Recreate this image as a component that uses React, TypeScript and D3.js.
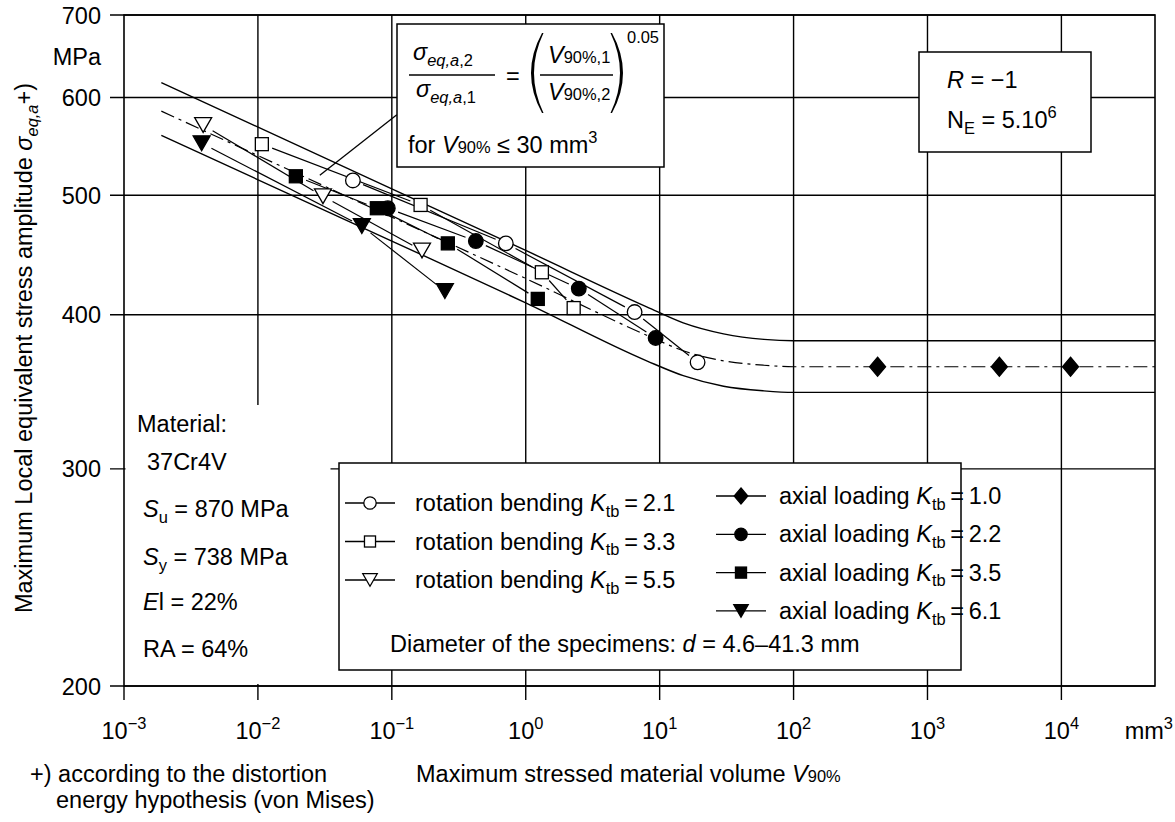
import * as d3 from "d3";
import React, { useEffect, useRef } from "react";

type Pt = [number, number]; // [V90% in mm^3, sigma in MPa]

// rotation bending
const rotBend21: Pt[] = [[0.0512, 514], [0.71, 457], [6.5, 402], [19.2, 366]];
const rotBend33: Pt[] = [[0.0107, 550], [0.164, 491], [1.32, 433], [2.28, 405]];
const rotBend55: Pt[] = [[0.0039, 570], [0.0306, 499], [0.168, 451]];
// axial loading
const axial10: Pt[] = [[424, 363], [3440, 363], [11700, 363]];
const axial22: Pt[] = [[0.0933, 488], [0.424, 459], [2.49, 420], [9.33, 383]];
const axial35: Pt[] = [[0.0192, 518], [0.0773, 488], [0.262, 457], [1.23, 412]];
const axial61: Pt[] = [[0.0038, 551], [0.0597, 472], [0.249, 418]];

// scatter band (upper / mean / lower)
const bandUpper: Pt[] = [[0.0019, 617], [0.1, 506], [1, 451], [8, 406], [15, 394], [30, 386], [60, 382], [100, 381], [50000, 381]];
const bandMean: Pt[] = [[0.0019, 585], [0.1, 480], [1, 428], [8, 385], [15, 374], [30, 367], [60, 364], [100, 363], [50000, 363]];
const bandLower: Pt[] = [[0.0019, 559], [0.1, 459], [1, 409], [8, 367], [15, 357], [30, 350], [60, 347], [100, 346], [50000, 346]];

// pointer from the formula box to the mean line
const leader: Pt[] = [[0.029, 519], [0.109, 581]];

const xTicks = [1e-3, 1e-2, 1e-1, 1, 10, 100, 1000, 1e4];
const xTickExp = ["\u22123", "\u22122", "\u22121", "0", "1", "2", "3", "4"];
const yTicks = [200, 300, 400, 500, 600, 700];

const legendLeftKinds = ["circleOpen", "squareOpen", "triOpen"];
const legendLeftK = ["2.1", "3.3", "5.5"];
const legendRightKinds = ["diamond", "circle", "square", "tri"];
const legendRightK = ["1.0", "2.2", "3.5", "6.1"];

const FONT = "'Liberation Sans', Arial, Helvetica, sans-serif";
const FS = 23.5;

type Part = { t: string; it?: boolean; sub?: boolean; sup?: boolean; sm?: boolean };

function rich(parent: any, x: number, y: number, parts: Part[], size = FS, anchor = "start") {
  const text = parent.append("text")
    .attr("x", x)
    .attr("y", y)
    .attr("font-size", size)
    .attr("text-anchor", anchor)
    .style("white-space", "pre");
  let shift = 0;
  parts.forEach((p) => {
    const target = p.sub ? size * 0.25 : p.sup ? -size * 0.42 : 0;
    const small = p.sub || p.sup || p.sm;
    text.append("tspan")
      .attr("dy", target - shift)
      .attr("font-size", small ? size * 0.7 : size)
      .attr("font-style", p.it ? "italic" : "normal")
      .text(p.t);
    shift = target;
  });
  return text;
}

function drawMarker(g: any, kind: string, cx: number, cy: number, k = 1) {
  const filled = !kind.endsWith("Open");
  const base = kind.replace("Open", "");
  let el;
  if (base === "circle") {
    el = g.append("circle").attr("cx", cx).attr("cy", cy).attr("r", 7.3 * k);
  } else if (base === "square") {
    const h = 6.5 * k;
    el = g.append("rect").attr("x", cx - h).attr("y", cy - h).attr("width", 2 * h).attr("height", 2 * h);
  } else if (base === "tri") {
    const w = 8.5 * k, h = 7.4 * k;
    el = g.append("path").attr("d", `M${cx - w},${cy - h}L${cx + w},${cy - h}L${cx},${cy + h}Z`);
  } else {
    const w = 8 * k, h = 9.5 * k;
    el = g.append("path").attr("d", `M${cx},${cy - h}L${cx + w},${cy}L${cx},${cy + h}L${cx - w},${cy}Z`);
  }
  el.attr("fill", filled ? "#000" : "#fff").attr("stroke", "#000").attr("stroke-width", 1.3);
}

const App: React.FC = () => {
  const ref = useRef<SVGSVGElement>(null);

  useEffect(() => {
    document.body.style.margin = "0";
    const width = 1175;
    const height = 822;
    const plot = { left: 124, right: 1155, top: 15, bottom: 686 };

    d3.select(ref.current).selectAll("*").remove();
    const svg = d3.select(ref.current)
      .attr("width", width)
      .attr("height", height)
      .style("font-family", FONT);

    const x = d3.scaleLog().domain([1e-3, 5e4]).range([plot.left, plot.right]);
    const y = d3.scaleLog().domain([200, 700]).range([plot.bottom, plot.top]);

    // grid
    const grid = svg.append("g").attr("stroke", "#000").attr("stroke-width", 1.4);
    xTicks.slice(1).forEach((t) => {
      grid.append("line").attr("x1", x(t)).attr("x2", x(t)).attr("y1", plot.top).attr("y2", plot.bottom + 14);
    });
    yTicks.forEach((t) => {
      grid.append("line").attr("x1", plot.left - 14).attr("x2", plot.right).attr("y1", y(t)).attr("y2", y(t));
    });
    // frame
    svg.append("rect")
      .attr("x", plot.left).attr("y", plot.top)
      .attr("width", plot.right - plot.left).attr("height", plot.bottom - plot.top)
      .attr("fill", "none").attr("stroke", "#000").attr("stroke-width", 1.6);
    svg.append("line").attr("x1", plot.left).attr("x2", plot.left)
      .attr("y1", plot.bottom).attr("y2", plot.bottom + 14).attr("stroke", "#000").attr("stroke-width", 1.4);

    // white area behind material data
    svg.append("rect").attr("x", plot.left + 1.5).attr("y", 405).attr("width", 205).attr("height", plot.bottom - 407)
      .attr("fill", "#fff");

    // tick labels
    yTicks.forEach((t) => {
      svg.append("text").attr("x", 101).attr("y", y(t) + 8.5).attr("text-anchor", "end")
        .attr("font-size", FS).text(String(t));
    });
    rich(svg, 101, 65, [{ t: "MPa" }], FS, "end");
    xTicks.forEach((t, i) => {
      rich(svg, x(t), 739, [{ t: "10" }, { t: xTickExp[i], sup: true }], FS, "middle");
    });
    rich(svg, 1173, 739, [{ t: "mm" }, { t: "3", sup: true }], FS, "end");

    // axis titles + footnote
    rich(svg, 0, 0, [
      { t: "Maximum Local equivalent stress amplitude " },
      { t: "\u03c3", it: true },
      { t: "eq,a", it: true, sub: true },
      { t: "+)" },
    ], FS, "middle").attr("transform", "translate(32,348) rotate(-90)");
    rich(svg, 416, 782, [{ t: "Maximum stressed material volume " }, { t: "V", it: true }, { t: "90%", sm: true }]);
    rich(svg, 30, 782, [{ t: "+) according to the distortion" }]);
    rich(svg, 56, 808, [{ t: "energy hypothesis (von Mises)" }]);

    // scatter band
    const lineGen = d3.line<Pt>().x((d) => x(d[0])).y((d) => y(d[1])).curve(d3.curveMonotoneX);
    const bands = svg.append("g").attr("fill", "none").attr("stroke", "#000").attr("stroke-width", 1.4);
    bands.append("path").attr("d", lineGen(bandUpper));
    bands.append("path").attr("d", lineGen(bandLower));
    bands.append("path").attr("d", lineGen(bandMean)).attr("stroke-width", 1.2).attr("stroke-dasharray", "14,5,3,5");

    // series connectors + markers
    const series = [
      { data: rotBend21, kind: "circleOpen" },
      { data: rotBend33, kind: "squareOpen" },
      { data: rotBend55, kind: "triOpen" },
      { data: axial22, kind: "circle" },
      { data: axial35, kind: "square" },
      { data: axial61, kind: "tri" },
      { data: axial10, kind: "diamond", noLink: true },
    ];
    const links = svg.append("g").attr("stroke", "#000").attr("stroke-width", 1.2);
    series.forEach((s) => {
      if (s.noLink) return;
      const pts = s.data.map((d) => [x(d[0]), y(d[1])]);
      for (let i = 0; i < pts.length - 1; i++) {
        const [x1, y1] = pts[i];
        const [x2, y2] = pts[i + 1];
        const L = Math.hypot(x2 - x1, y2 - y1);
        const g = 11;
        links.append("line")
          .attr("x1", x1 + ((x2 - x1) * g) / L).attr("y1", y1 + ((y2 - y1) * g) / L)
          .attr("x2", x2 - ((x2 - x1) * g) / L).attr("y2", y2 - ((y2 - y1) * g) / L);
      }
    });
    const marks = svg.append("g");
    series.forEach((s) => s.data.forEach((d) => drawMarker(marks, s.kind, x(d[0]), y(d[1]))));

    // formula box
    svg.append("line")
      .attr("x1", x(leader[0][0])).attr("y1", y(leader[0][1]))
      .attr("x2", x(leader[1][0])).attr("y2", y(leader[1][1]))
      .attr("stroke", "#000").attr("stroke-width", 1.3);
    svg.append("rect").attr("x", 397).attr("y", 24).attr("width", 267).attr("height", 143)
      .attr("fill", "#fff").attr("stroke", "#000").attr("stroke-width", 1.5);
    rich(svg, 413, 60, [{ t: "\u03c3", it: true }, { t: "eq,a", it: true, sub: true }, { t: ",2", sub: true }]);
    svg.append("line").attr("x1", 409).attr("x2", 495).attr("y1", 75).attr("y2", 75).attr("stroke", "#000").attr("stroke-width", 1.4);
    rich(svg, 416, 97, [{ t: "\u03c3", it: true }, { t: "eq,a", it: true, sub: true }, { t: ",1", sub: true }]);
    rich(svg, 506, 84, [{ t: "=" }]);
    const paren = (cx: number, dir: number) => {
      const top = 33, bot = 113, mid = (top + bot) / 2;
      const p = d3.path();
      p.moveTo(cx, top);
      p.quadraticCurveTo(cx + dir * 22, mid, cx, bot);
      p.lineTo(cx - dir * 1.5, bot);
      p.quadraticCurveTo(cx + dir * 17.5, mid, cx - dir * 1.5, top);
      p.closePath();
      svg.append("path").attr("d", p.toString()).attr("fill", "#000");
    };
    paren(542, -1);
    paren(612, 1);
    rich(svg, 548, 63, [{ t: "V", it: true }, { t: "90%,1", sm: true }]);
    svg.append("line").attr("x1", 540).attr("x2", 613).attr("y1", 75).attr("y2", 75).attr("stroke", "#000").attr("stroke-width", 1.4);
    rich(svg, 548, 100, [{ t: "V", it: true }, { t: "90%,2", sm: true }]);
    rich(svg, 627, 43, [{ t: "0.05", sm: true }]);
    rich(svg, 408, 153, [{ t: "for " }, { t: "V", it: true }, { t: "90%", sm: true }, { t: " \u2264 30 mm" }, { t: "3", sup: true }]);

    // R / N box
    svg.append("rect").attr("x", 919).attr("y", 52).attr("width", 172).attr("height", 100)
      .attr("fill", "#fff").attr("stroke", "#000").attr("stroke-width", 1.5);
    rich(svg, 947, 88, [{ t: "R", it: true }, { t: " = \u22121" }]);
    rich(svg, 947, 128, [{ t: "N" }, { t: "E", sub: true }, { t: " = 5.10" }, { t: "6", sup: true }]);

    // material
    rich(svg, 137, 432, [{ t: "Material:" }]);
    rich(svg, 147, 470, [{ t: "37Cr4V" }]);
    rich(svg, 143, 517, [{ t: "S", it: true }, { t: "u", sub: true }, { t: " = 870 MPa" }]);
    rich(svg, 143, 565, [{ t: "S", it: true }, { t: "y", sub: true }, { t: " = 738 MPa" }]);
    rich(svg, 143, 610, [{ t: "E", it: true }, { t: "l = 22%" }]);
    rich(svg, 143, 657, [{ t: "RA = 64%" }]);

    // legend
    svg.append("rect").attr("x", 339).attr("y", 463).attr("width", 622).attr("height", 207)
      .attr("fill", "#fff").attr("stroke", "#000").attr("stroke-width", 1.5);
    const leg = svg.append("g");
    const legendRow = (kind: string, label: string, k: string, lx: number, cy: number, tx: number) => {
      leg.append("line").attr("x1", lx).attr("x2", lx + 50).attr("y1", cy).attr("y2", cy)
        .attr("stroke", "#000").attr("stroke-width", 1.3);
      drawMarker(leg, kind, lx + 25, cy, 0.85);
      rich(leg, tx, cy + 8, [{ t: label + " " }, { t: "K", it: true }, { t: "tb", sub: true }, { t: "\u2009=\u2009" + k }]);
    };
    legendLeftKinds.forEach((kind, i) => legendRow(kind, "rotation bending", legendLeftK[i], 345, 503 + i * 38.5, 415));
    legendRightKinds.forEach((kind, i) => legendRow(kind, "axial loading", legendRightK[i], 716, 496 + i * 38.3, 779));
    rich(leg, 390, 652, [{ t: "Diameter of the specimens: " }, { t: "d", it: true }, { t: " = 4.6\u201341.3 mm" }]);
  }, []);

  return <svg ref={ref}></svg>;
};

export default App;
